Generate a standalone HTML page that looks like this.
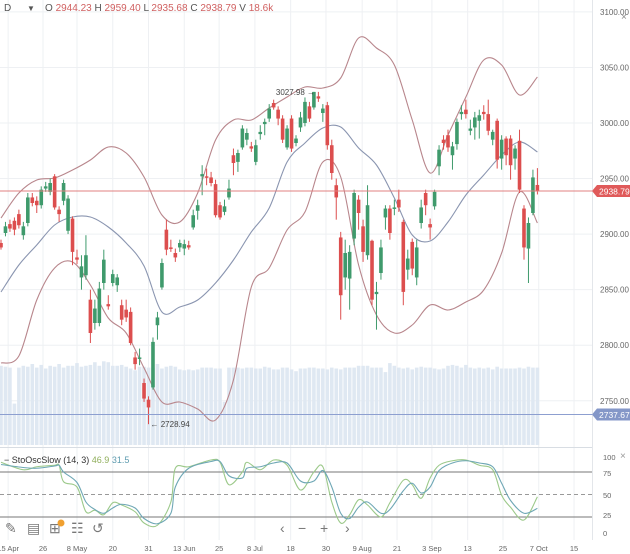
<!DOCTYPE html>
<html><head><meta charset="utf-8"><style>
body{margin:0;width:630px;height:554px;overflow:hidden;background:#fff;font-family:"Liberation Sans",sans-serif}
svg{display:block}
</style></head><body>
<svg id="chart" width="630" height="554" viewBox="0 0 630 554">
<g id="grid"></g>
<g id="vol"></g>
<g id="bands"></g>
<g id="candles"></g>
<g id="stoch"></g>
<g id="axes"></g>
<g font-size="10">
<text x="4" y="11" fill="#555">D</text>
<text x="27" y="11" fill="#555" font-size="8">▼</text>
<text x="45" y="11"><tspan fill="#555">O </tspan><tspan fill="#d06060">2944.23 </tspan><tspan fill="#555"> H </tspan><tspan fill="#d06060">2959.40 </tspan><tspan fill="#555"> L </tspan><tspan fill="#d06060">2935.68 </tspan><tspan fill="#555"> C </tspan><tspan fill="#d06060">2938.79 </tspan><tspan fill="#555"> V </tspan><tspan fill="#d06060">18.6k</tspan></text>
</g>
</svg>
<script>
const ns="http://www.w3.org/2000/svg";
const opens=[2892,2901,2909,2912,2918,2899,2910,2933,2930,2926,2941,2938,2952,2922,2930,2903,2914,2879,2861,2863,2841,2820,2820,2856,2837,2856,2854,2836,2832,2830,2789,2788,2766,2751,2762,2818,2852,2904,2888,2883,2888,2887,2890,2906,2921,2952,2952,2951,2945,2926,2920,2933,2971,2965,2978,2985,2979,2965,2990,2999,3004,3018,3012,3004,2978,3004,2982,2996,3000,3015,3014,3024,3009,3016,2980,2944,2897,2861,2860,2896,2931,2907,2881,2894,2846,2865,2915,2923,2923,2931,2911,2868,2893,2861,2910,2937,2909,2925,2961,2985,2989,2971,2981,3008,3012,2993,2996,3002,3010,3008,2985,3002,2968,2986,2986,2968,2984,2923,2887,2919,2944.23];
const highs=[2895,2911,2913,2915,2922,2911,2937,2937,2934,2943,2947,2950,2954,2925,2949,2935,2916,2886,2881,2899,2850,2841,2857,2886,2845,2868,2864,2841,2841,2834,2794,2797,2770,2754,2807,2830,2878,2913,2895,2887,2895,2895,2894,2922,2931,2962,2959,2956,2949,2929,2931,2949,2977,2976,2998,2995,2983,2985,2998,3004,3017,3021,3015,3007,2998,3007,2989,3010,3023,3019,3028,3028,3017,3019,2985,2950,2902,2895,2890,2940,2935,2913,2944,2895,2857,2895,2926,2926,2931,2940,2913,2886,2896,2895,2931,2940,2914,2940,2980,2989,2994,2983,3004,3016,3021,3003,3010,3012,3016,3021,2994,3004,2989,2988,2989,2980,2994,2926,2915,2958,2959.40];
const lows=[2886,2898,2902,2899,2905,2895,2907,2925,2919,2923,2938,2935,2922,2911,2926,2900,2872,2873,2850,2859,2802,2814,2817,2850,2832,2853,2848,2818,2821,2800,2778,2782,2749,2728.94,2760,2805,2850,2881,2884,2875,2884,2881,2886,2904,2913,2935,2944,2943,2915,2913,2917,2931,2953,2956,2976,2980,2974,2962,2985,2989,3001,3012,2998,2982,2976,2974,2979,2992,2997,3001,3012,3019,3001,2976,2949,2913,2823,2850,2832,2890,2904,2875,2877,2836,2814,2859,2904,2895,2917,2920,2836,2859,2863,2854,2905,2917,2895,2922,2953,2976,2974,2958,2976,3003,3004,2989,2985,2986,3003,2989,2980,2959,2958,2962,2949,2958,2937,2877,2856,2917,2935.68];
const closes=[2888,2907,2905,2904,2908,2907,2933,2928,2926,2940,2943,2946,2924,2918,2946,2932,2884,2877,2871,2881,2811,2833,2851,2877,2835,2864,2861,2823,2825,2802,2783,2789,2752,2744,2803,2825,2874,2886,2887,2879,2892,2891,2888,2917,2926,2954,2951,2946,2917,2915,2925,2941,2964,2973,2995,2991,2977,2980,2992,3001,3013,3014,3004,2985,2995,2977,2986,3005,3019,3004,3027.98,3022,3013,2980,2955,2933,2845,2883,2884,2937,2919,2884,2926,2841,2848,2888,2923,2901,2924,2924,2848,2878,2869,2888,2924,2926,2906,2938,2976,2982,2978,2979,3001,3010,3008,2995,3005,3007,3008,2993,2992,2967,2985,2971,2962,2977,2940,2888,2910,2951,2938.79];
const volumes=[88,87,86,46,86,88,87,90,86,89,85,88,87,90,86,88,88,91,87,88,89,92,88,93,92,88,88,89,87,85,83,87,87,86,86,90,85,87,88,87,84,83,84,83,84,86,86,86,85,85,48,86,86,86,85,86,86,85,85,87,86,84,84,86,86,84,82,85,85,86,86,85,85,84,86,85,84,86,86,86,88,88,88,86,86,86,81,91,88,86,85,86,84,86,87,86,86,85,84,85,88,89,88,86,89,86,85,86,85,86,84,87,85,85,85,85,86,85,87,86,86];
const bandIdx=[0,4,8,12,16,20,24,28,32,36,40,44,48,52,56,60,64,68,72,76,80,84,88,92,96,100,104,108,112,116,120];
const upperBand=[2914.5,2937,2948.7,2950.5,2957.7,2966.7,2978.4,2973,2951.4,2917.2,2910.9,2937,2984.7,3002.7,3002.7,3013.5,3023.4,3032.4,3031.5,3040.5,3076.5,3067.5,3052.2,3002.7,2955,2989.2,3023.4,3056.7,3052.2,3025.2,3041.4];
const middleBand=[2847.9,2872.2,2890.2,2908.2,2915.4,2915.4,2906.4,2892,2871.3,2829.9,2834.4,2840.7,2856,2876.7,2901.9,2923.5,2964.9,2982,2995.5,2996.4,2977.5,2962.2,2932.5,2899.2,2893.8,2910.9,2935.2,2953.2,2971.2,2982.9,2973.9];
const lowerBand=[2784,2790.3,2840.7,2869.5,2874.9,2854.2,2824.5,2811,2779.5,2748.9,2748.9,2742.6,2732.7,2768.7,2852.4,2869.5,2903.7,2919.9,2964.9,2951.4,2872.2,2827.2,2811,2818.2,2836.2,2831.7,2838.9,2849.7,2883,2937.9,2910];
const stochIdx=[0,5,8,12,13,14,17,19,21,23,25,27,30,32,35,38,39,42,47,49,51,54,55,58,61,64,67,70,72,74,76,78,80,82,85,87,90,92,94,96,98,101,104,107,110,112,114,117,120];
const stochK=[93,83,87,89,89,67,60,27,29,23,39,36,27,12,9,40,85,87,96,93,63,80,93,83,96,89,56,80,87,40,12,23,43,36,20,39,69,63,45,72,89,95,96,89,83,49,33,16,46.9];
const stochD=[90,86,85,88,89,80,66,40,30,25,32,37,32,18,11,25,60,85,94,94,75,72,85,87,92,92,68,68,82,60,25,18,33,40,25,30,55,65,52,60,82,92,95,92,87,65,42,25,31.5];
const priceTicks=[3100,3050,3000,2950,2900,2850,2800,2750];
const dateLabels=["15 Apr","26","8 May","20","31","13 Jun","25","8 Jul","18","30","9 Aug","21","3 Sep","13","25","7 Oct","15"];
const dateIdx=[1.6,9.4,17,25,33,41,48.8,56.8,64.8,72.7,80.8,88.6,96.4,104.4,112.3,120.3,128.2];
const lastPrice=2938.79, lowLine=2737.67;

const X=i=>1+i*4.47;
const Y=p=>123+(3000-p)*1.1111;
const SY=v=>532-v*0.75;
const VY=v=>v*0.9;
function el(tag,attrs,parent){const e=document.createElementNS(ns,tag);for(const k in attrs)e.setAttribute(k,attrs[k]);parent.appendChild(e);return e;}
function smooth(pts){let d="M"+pts[0][0]+","+pts[0][1];for(let i=0;i<pts.length-1;i++){const p0=pts[i-1]||pts[i],p1=pts[i],p2=pts[i+1],p3=pts[i+2]||p2;d+=" C"+(p1[0]+(p2[0]-p0[0])/6)+","+(p1[1]+(p2[1]-p0[1])/6)+" "+(p2[0]-(p3[0]-p1[0])/6)+","+(p2[1]-(p3[1]-p1[1])/6)+" "+p2[0]+","+p2[1];}return d;}

const grid=document.getElementById('grid');
dateIdx.forEach((d,i)=>{const l=el('line',{x1:X(d),x2:X(d),y1:0,y2:540,stroke:'#eef0f3','stroke-width':1},grid);

});
priceTicks.forEach(p=>{const l=el('line',{x1:0,x2:592,y1:Y(p),y2:Y(p),stroke:'#eef0f3','stroke-width':1},grid);

});

const vol=document.getElementById('vol');
volumes.forEach((v,i)=>{const r=el('rect',{x:X(i)-1.8,y:445-VY(v),width:3.6,height:VY(v),fill:'#dfe8f2'},vol);

});

const bands=document.getElementById('bands');
[[upperBand,'#b8868c','upper-band'],[middleBand,'#8a95b0','middle-band'],[lowerBand,'#b8868c','lower-band']].forEach(([arr,c,n])=>{
const p=el('path',{d:smooth(arr.map((v,k)=>[X(bandIdx[k]),Y(v)])),fill:'none',stroke:c,'stroke-width':1.1},bands);

});

const ax=document.getElementById('axes');
const ll=el('line',{x1:0,x2:592,y1:Y(lastPrice),y2:Y(lastPrice),stroke:'#e08080','stroke-width':1},ax);


const bl=el('line',{x1:0,x2:592,y1:Y(lowLine),y2:Y(lowLine),stroke:'#8d9fd0','stroke-width':1},ax);



const cg=document.getElementById('candles');
opens.forEach((o,i)=>{const c=closes[i],up=c>=o,col=up?'#3f9a6c':'#dc4e4e',x=X(i);
const g=el('g',{},cg);


el('line',{x1:x,x2:x,y1:Y(highs[i]),y2:Y(lows[i]),stroke:col,'stroke-width':1},g);
const t=Math.min(Y(o),Y(c)),h=Math.max(1.5,Math.abs(Y(o)-Y(c)));
el('rect',{x:x-1.8,y:t,width:3.6,height:h,fill:col},g);});

const hiI=closes.indexOf(Math.max(...closes));
const hiA=el('text',{x:X(hiI)-38,y:Y(Math.max(...highs))+3,'font-size':8,fill:'#444'},ax);
hiA.textContent='3027.98 →';


const loI=lows.indexOf(Math.min(...lows));
const loA=el('text',{x:X(loI)+2,y:Y(Math.min(...lows))+3,'font-size':8,fill:'#444'},ax);
loA.textContent='← 2728.94';



el('line',{x1:592.5,x2:592.5,y1:0,y2:540,stroke:'#e3e6ea'},ax);
priceTicks.forEach(p=>{const t=el('text',{x:600,y:Y(p)+3,'font-size':8,fill:'#666'},ax);t.textContent=p.toFixed(2);

});
[[lastPrice,'#e05a5a','last-price-label'],[lowLine,'#8497c8','low-level-label']].forEach(([v,c,n])=>{
const g=el('g',{},ax);


el('path',{d:`M592,${Y(v)} l5,-6 h33 v12 h-33 z`,fill:c},g);
const t=el('text',{x:599,y:Y(v)+3.5,'font-size':8.5,fill:'#fff'},g);t.textContent=v.toFixed(2);});
const cl=el('text',{x:621,y:20,'font-size':10,fill:'#888'},ax);cl.textContent='×';



const st=document.getElementById('stoch');
el('line',{x1:0,x2:592,y1:447.5,y2:447.5,stroke:'#d8dde3'},st);
[[80,'#777',''],[20,'#777',''],[50,'#999','4,3']].forEach(([v,c,da])=>{el('line',{x1:0,x2:592,y1:SY(v),y2:SY(v),stroke:c,'stroke-width':1,'stroke-dasharray':da},st);});
const kp=el('path',{d:smooth(stochIdx.map((b,k)=>[X(b),SY(stochK[k])])),fill:'none',stroke:'#9cc98a','stroke-width':1.1},st);


const dp=el('path',{d:smooth(stochIdx.map((b,k)=>[X(b),SY(stochD[k])])),fill:'none',stroke:'#6ea7b5','stroke-width':1.1},st);


const lab=el('text',{x:4,y:463,'font-size':9},st);
lab.innerHTML='<tspan fill="#333">−  StoOscSlow (14, 3) </tspan><tspan fill="#8fae5a">46.9 </tspan><tspan fill="#5e9cb0">31.5</tspan>';


[[100,457],[75,473],[50,495],[25,515],[0,533]].forEach(([v,y])=>{const t=el('text',{x:603,y:y+3,'font-size':7.5,fill:'#666'},st);t.textContent=v;

});
const sx=el('text',{x:620,y:459,'font-size':10,fill:'#999'},st);sx.textContent='×';



dateLabels.forEach((d,i)=>{const t=el('text',{x:X(dateIdx[i]),y:551,'font-size':7.5,fill:'#666','text-anchor':'middle'},ax);t.textContent=d;

});

const tb=el('g',{'font-size':14,fill:'#777'},ax);


[['✎',5,'draw-tool'],['▤',27,'list-tool'],['⊞',49,'add-indicator'],['☷',71,'settings-tool'],['↺',92,'reset-tool'],['‹',280,'scroll-left'],['−',298,'zoom-out'],['+',320,'zoom-in'],['›',345,'scroll-right']].forEach(([g,x,n])=>{
const t=el('text',{x:x,y:533},tb);t.textContent=g;

});
el('circle',{cx:61,cy:523,r:3.5,fill:'#f0a030'},tb);
</script>
</body></html>
